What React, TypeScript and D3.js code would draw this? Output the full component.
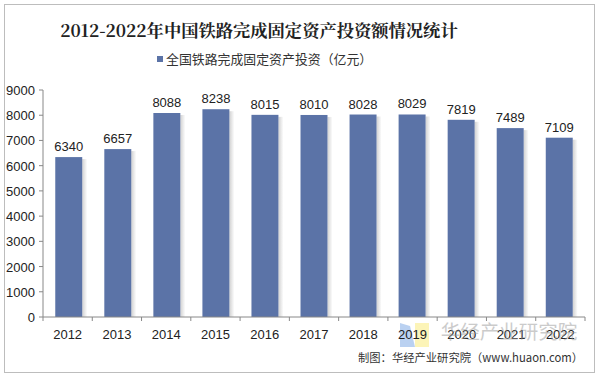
import React from "react";
import * as d3 from "d3";

const years = ["2012","2013","2014","2015","2016","2017","2018","2019","2020","2021","2022"];
const values = [6340, 6657, 8088, 8238, 8015, 8010, 8028, 8029, 7819, 7489, 7109];
const yTicks = [0,1000,2000,3000,4000,5000,6000,7000,8000,9000];
const title = "2012-2022年中国铁路完成固定资产投资额情况统计";
const legendLabel = "全国铁路完成固定资产投资（亿元）";
const credit = "制图：华经产业研究院（www.huaon.com）";
const watermark = "华经产业研究院";

export default function App() {
  const W = 600, H = 378;
  const left = 43, right = 585, top = 90, bottom = 317;
  const x = d3.scaleBand().domain(years).range([left, right]).paddingInner(0.45).paddingOuter(0.25);
  const xb = d3.scaleBand().domain(years).range([left, right]);
  const y = d3.scaleLinear().domain([0, 9000]).range([bottom, top]);
  const font = "'Liberation Sans', Arial, sans-serif";
  const cjk = "'Noto Sans CJK SC', sans-serif";
  return (
    <svg width={W} height={H} style={{ position: "absolute", left: 0, top: 0 }}>
      <defs>
        <linearGradient id="shadow" x1="0" x2="1" y1="0" y2="0">
          <stop offset="0" stopColor="#000" stopOpacity="0.18" />
          <stop offset="1" stopColor="#000" stopOpacity="0" />
        </linearGradient>
      </defs>
      <rect x={0} y={0} width={W} height={H} fill="#fff" />
      <rect x={4.5} y={4.5} width={590} height={368} fill="#fff" stroke="#bdbdbd" strokeWidth={1} />
      <text x={259} y={37} textAnchor="middle" fontFamily="'Noto Serif CJK SC', 'Liberation Serif', 'Noto Sans CJK SC', serif" fontWeight="bold" fontSize={17.3} fill="#222">{title}</text>
      <rect x={157} y={56} width={6} height={6} fill="#5b73a7" />
      <text x={166} y={64} fontFamily={cjk} fontSize={12.9} fill="#333">{legendLabel}</text>
      {yTicks.map(t => (
        <g key={t}>
          <line x1={left - 4} x2={left} y1={y(t)} y2={y(t)} stroke="#888" />
          <text x={left - 8} y={y(t) + 5} textAnchor="end" fontFamily={font} fontSize={13} fill="#222">{t}</text>
        </g>
      ))}
      {years.map((yr, i) => (
        <g key={yr}>
          <rect x={x(yr)! + x.bandwidth()} y={y(values[i]) + 2} width={5} height={bottom - y(values[i]) - 2} fill="url(#shadow)" />
          <rect x={x(yr)!} y={y(values[i])} width={x.bandwidth()} height={bottom - y(values[i])} fill="#5b73a7" />
          <text x={x(yr)! + x.bandwidth() / 2} y={y(values[i]) - 6} textAnchor="middle" fontFamily={font} fontSize={13} fill="#222">{values[i]}</text>
        </g>
      ))}
      <line x1={left} x2={left} y1={top} y2={bottom} stroke="#888" />
      <line x1={left} x2={right} y1={bottom} y2={bottom} stroke="#888" />
      {[...years.map(yr => xb(yr)!), right].map((v, i) => (
        <line key={i} x1={v} x2={v} y1={bottom} y2={bottom + 4} stroke="#888" />
      ))}
      <polygon points="400,323 410,326 415,347 400,347" fill="#a9c6ee" opacity={0.8} />
      <rect x={415} y={323} width={14} height={24} fill="#fbf1a6" opacity={0.8} />
      {years.map(yr => (
        <text key={yr} x={xb(yr)! + xb.bandwidth() / 2} y={339} textAnchor="middle" fontFamily={font} fontSize={13} fill="#222">{yr}</text>
      ))}
      <text x={509} y={339} textAnchor="middle" fontFamily={cjk} fontSize={19.5} fill="#999" opacity={0.5}>{watermark}</text>
      <text x={583} y={362} textAnchor="end" fontFamily={cjk} fontSize={11.3} fill="#333">{credit}</text>
    </svg>
  );
}
